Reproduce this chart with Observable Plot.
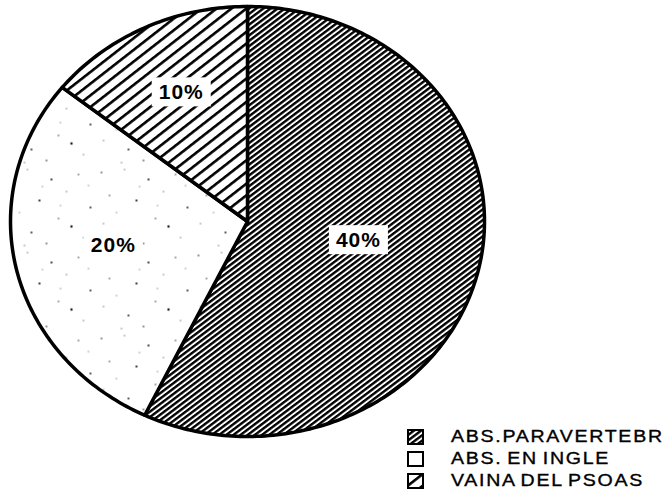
<!DOCTYPE html>
<html><head><meta charset="utf-8">
<script src="https://cdn.jsdelivr.net/npm/d3@7"></script>
<script src="https://cdn.jsdelivr.net/npm/@observablehq/plot@0.6"></script>
<style>
body{margin:0;background:#fff;}
#wrap{position:relative;width:672px;height:501px;overflow:hidden;}
#legend{position:absolute;left:407px;top:426px;font-family:"Liberation Sans",Arial,sans-serif;font-size:17px;color:#000;}
.row{display:flex;align-items:center;height:22px;white-space:nowrap;}
.row svg{flex:none;}
.row span{display:inline-block;margin-left:27px;transform:scaleX(1.15);transform-origin:left center;letter-spacing:1.5px;word-spacing:-2px;-webkit-text-stroke:0.35px #000;}
</style></head><body><div id="wrap"></div>
<script>
const categories = ["ABS.PARAVERTEBR", "ABS. EN INGLE", "VAINA DEL PSOAS"];
const values = [40, 20, 10];
const labels = ["40%", "20%", "10%"];
const patterns = ["url(#pDense)", "url(#pDots)", "url(#pSparse)"];

const pie = d3.pie().sort(null).value(d => d)(values);

const outline = [];
pie.forEach((p, i) => {
  const n = Math.max(2, Math.ceil((p.endAngle - p.startAngle) / (Math.PI / 180)));
  outline.push({slice: i, x: 0, y: 0});
  for (let k = 0; k <= n; k++) {
    const a = p.startAngle + (p.endAngle - p.startAngle) * k / n;
    outline.push({slice: i, x: Math.sin(a), y: Math.cos(a)});
  }
  outline.push({slice: i, x: 0, y: 0});
});

const labelData = pie.map((p, i) => {
  const mid = (p.startAngle + p.endAngle) / 2;
  const half = (p.endAngle - p.startAngle) / 2;
  const r = Math.max(0.48, 2 * Math.sin(half) / (3 * half));
  return {label: labels[i], x: r * Math.sin(mid), y: r * Math.cos(mid)};
});

const chart = Plot.plot({
  width: 672,
  height: 501,
  margin: 0,
  x: {domain: [-1, 1], range: [10, 484], axis: null},
  y: {domain: [-1, 1], range: [436, 6], axis: null},
  style: {background: "white"},
  marks: [
    ...pie.map((p, i) => Plot.line(outline.filter(d => d.slice === i), {
      x: "x", y: "y", fill: patterns[i], stroke: "black", strokeWidth: 3.5,
      strokeLinejoin: "round"
    })),
    Plot.text(labelData, {
      x: "x", y: "y", text: "label", fontSize: 21, fontWeight: "bold",
      fontFamily: "Liberation Sans, Arial, sans-serif", fill: "black", dy: -4
    })
  ]
});

document.getElementById("wrap").appendChild(chart);

const svg = d3.select(chart);
const defs = svg.insert("defs", ":first-child");
// dense hatch
const p1 = defs.append("pattern").attr("id", "pDense").attr("patternUnits", "userSpaceOnUse")
  .attr("width", 10).attr("height", 4.3).attr("patternTransform", "rotate(-37)");
p1.append("rect").attr("width", 10).attr("height", 4.3).attr("fill", "white");
p1.append("rect").attr("width", 10).attr("height", 2.4).attr("fill", "black");
// sparse hatch
const p3 = defs.append("pattern").attr("id", "pSparse").attr("patternUnits", "userSpaceOnUse")
  .attr("width", 10).attr("height", 9.2).attr("patternTransform", "rotate(-38)");
p3.append("rect").attr("width", 10).attr("height", 9.2).attr("fill", "white");
p3.append("rect").attr("width", 10).attr("height", 2.6).attr("fill", "black");
// speckle
const p2 = defs.append("pattern").attr("id", "pDots").attr("patternUnits", "userSpaceOnUse")
  .attr("width", 97).attr("height", 83);
p2.append("rect").attr("width", 97).attr("height", 83).attr("fill", "white");
[[4,6,0.8],[27,3,0.6],[51,13,1.0],[78,8,0.7],[12,29,0.7],[39,34,1.1],[66,25,0.6],[90,41,0.9],
 [6,57,0.6],[31,66,0.9],[58,52,0.7],[83,71,0.6],[46,77,0.8],[71,60,1.2],[19,46,0.5],[88,19,0.5],
 [60,39,0.5],[24,79,0.6],[42,20,0.5]].forEach(([cx, cy, r]) =>
  p2.append("circle").attr("cx", cx).attr("cy", cy).attr("r", r).attr("fill", "#111"));

// white boxes behind labels
svg.selectAll('g[aria-label="text"] text').each(function() {
  this.setAttribute("letter-spacing", "1");
  const b = this.getBBox();
  const tr = this.getAttribute("transform");
  const rect = document.createElementNS("http://www.w3.org/2000/svg", "rect");
  rect.setAttribute("x", b.x - 7); rect.setAttribute("y", b.y - 3);
  rect.setAttribute("width", b.width + 14); rect.setAttribute("height", b.height + 6);
  rect.setAttribute("fill", "white");
  if (tr) rect.setAttribute("transform", tr);
  this.parentNode.insertBefore(rect, this);
});

// legend
const legend = d3.select("#wrap").append("div").attr("id", "legend");
categories.forEach((c, i) => {
  const row = legend.append("div").attr("class", "row");
  const s = row.append("svg").attr("width", 17).attr("height", 16);
  s.append("rect").attr("x", 1).attr("y", 1).attr("width", 15).attr("height", 14)
    .attr("fill", i === 1 ? "white" : patterns[i]).attr("stroke", "black").attr("stroke-width", 2);
  row.append("span").text(c);
});
</script>
</body></html>
